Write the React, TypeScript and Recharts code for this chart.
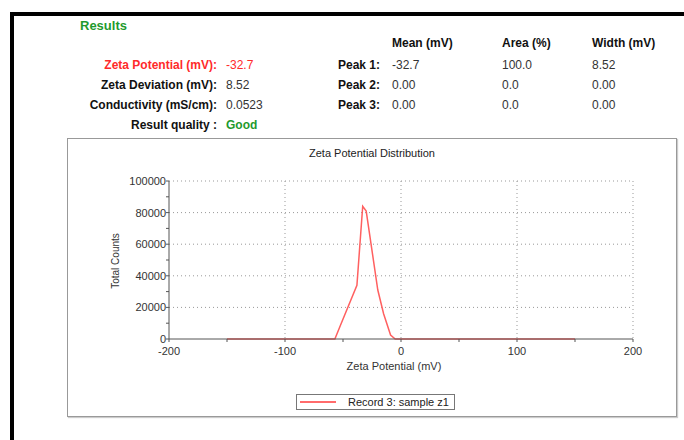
import React from "react";
import { LineChart, Line, XAxis, YAxis, CartesianGrid, Legend } from "recharts";

const zetaValues = [-150, -57, -52, -38, -33, -30, -20, -15, -9, -5, 150];
const countValues = [0, 0, 9000, 34000, 84000, 81000, 31000, 16000, 2500, 0, 0];
const xTicks = [-200, -150, -100, -50, 0, 50, 100, 150, 200];
const yTicks = [0, 10000, 20000, 30000, 40000, 50000, 60000, 70000, 80000, 90000, 100000];
const gridX = [-100, 0, 100, 200];
const gridY = [20000, 40000, 60000, 80000, 100000];

const data = zetaValues.map((z, i) => ({ zeta: z, count: countValues[i] }));

const FONT = '"Liberation Sans", Arial, sans-serif';
const RED = "#ff2a2a";
const GREEN = "#1f9a2e";

const leftRows = [
  { label: "Zeta Potential (mV):", value: "-32.7", color: RED, y: 65 },
  { label: "Zeta Deviation (mV):", value: "8.52", color: "#111", y: 85 },
  { label: "Conductivity (mS/cm):", value: "0.0523", color: "#111", y: 105 },
];
const peakRows = [
  { label: "Peak 1:", mean: "-32.7", area: "100.0", width: "8.52", y: 65 },
  { label: "Peak 2:", mean: "0.00", area: "0.0", width: "0.00", y: 85 },
  { label: "Peak 3:", mean: "0.00", area: "0.0", width: "0.00", y: 105 },
];

const txt = (left: number, y: number, s: string, style: React.CSSProperties = {}) => (
  <div
    style={{
      position: "absolute",
      left,
      top: y - 7,
      lineHeight: "14px",
      fontSize: 12,
      whiteSpace: "nowrap",
      color: "#333",
      ...style,
    }}
  >
    {s}
  </div>
);

const rtxt = (right: number, y: number, s: string, style: React.CSSProperties = {}) => (
  <div
    style={{
      position: "absolute",
      left: right - 200,
      width: 200,
      textAlign: "right",
      top: y - 7,
      lineHeight: "14px",
      fontSize: 12,
      fontWeight: "bold",
      whiteSpace: "nowrap",
      color: "#111",
      ...style,
    }}
  >
    {s}
  </div>
);

const LegendBox = () => (
  <div
    style={{
      width: 157,
      height: 14,
      border: "1px solid #777",
      position: "relative",
      fontFamily: FONT,
      fontSize: 11,
      background: "#fff",
    }}
  >
    <div style={{ position: "absolute", left: 3, top: 6, width: 36, height: 1.5, background: "#ff6b6b" }} />
    <div style={{ position: "absolute", left: 51, top: 0, lineHeight: "14px", color: "#222" }}>
      Record 3: sample z1
    </div>
  </div>
);

export default function App() {
  return (
    <div style={{ position: "absolute", left: 0, top: 0, width: 684, height: 440, background: "#fff", fontFamily: FONT, overflow: "hidden" }}>
      {/* outer frame */}
      <div style={{ position: "absolute", left: 10, top: 12, width: 674, height: 3.5, background: "#000" }} />
      <div style={{ position: "absolute", left: 10, top: 12, width: 4, height: 428, background: "#000" }} />

      {txt(80, 26, "Results", { color: GREEN, fontWeight: "bold", fontSize: 13 })}
      {txt(392, 43, "Mean (mV)", { color: "#111", fontWeight: "bold" })}
      {txt(502, 43, "Area (%)", { color: "#111", fontWeight: "bold" })}
      {txt(592, 43, "Width (mV)", { color: "#111", fontWeight: "bold" })}

      {leftRows.map((r) => (
        <React.Fragment key={r.label}>
          {rtxt(217, r.y, r.label, { color: r.color })}
          {txt(226, r.y, r.value, { color: r.color === RED ? RED : "#333" })}
        </React.Fragment>
      ))}
      {peakRows.map((r) => (
        <React.Fragment key={r.label}>
          {rtxt(380, r.y, r.label)}
          {txt(392, r.y, r.mean)}
          {txt(502, r.y, r.area)}
          {txt(592, r.y, r.width)}
        </React.Fragment>
      ))}
      {rtxt(217, 125, "Result quality :")}
      {txt(226, 125, "Good", { color: GREEN, fontWeight: "bold" })}

      {/* chart box */}
      <div
        style={{
          position: "absolute",
          left: 67,
          top: 138,
          width: 608,
          height: 277,
          border: "1.5px solid #999",
          boxShadow: "1px 1px 1px #ccc",
        }}
      >
        <div style={{ position: "absolute", left: 0, width: 608, top: 8, textAlign: "center", fontSize: 11, color: "#222" }}>
          Zeta Potential Distribution
        </div>
        <div
          style={{
            position: "absolute",
            left: 48 - 60,
            top: 122 - 7,
            width: 120,
            lineHeight: "14px",
            textAlign: "center",
            fontSize: 10,
            color: "#333",
            transform: "rotate(-90deg)",
          }}
        >
          Total Counts
        </div>
        <div style={{ position: "absolute", left: 0, width: 652, top: 221, textAlign: "center", fontSize: 11, color: "#333" }}>
          Zeta Potential (mV)
        </div>
        <div style={{ position: "absolute", left: -1, top: -1 }}>
          <LineChart width={610} height={279} data={data} margin={{ top: 43, right: 44, bottom: 32, left: 0 }}>
            <CartesianGrid
              stroke="#999"
              strokeDasharray="1 3"
              horizontalValues={gridY}
              verticalValues={gridX}
            />
            <XAxis
              dataKey="zeta"
              type="number"
              domain={[-200, 200]}
              ticks={xTicks}
              allowDataOverflow
              height={30}
              tickSize={3}
              tickMargin={5}
              interval={0}
              tickFormatter={(v: number) => (v % 100 === 0 ? String(v) : "")}
              stroke="#555"
              tick={{ fill: "#333", fontSize: 11, fontFamily: FONT }}
            />
            <YAxis
              type="number"
              domain={[0, 100000]}
              ticks={yTicks}
              width={102}
              tickSize={3}
              tickMargin={0}
              interval={0}
              tickFormatter={(v: number) => (v % 20000 === 0 ? String(v) : "")}
              stroke="#555"
              tick={{ fill: "#333", fontSize: 11, fontFamily: FONT }}
            />
            <Legend
              content={() => <LegendBox />}
              wrapperStyle={{ position: "absolute", left: 229, top: 256, width: 159, height: 16 }}
            />
            <Line
              type="linear"
              dataKey="count"
              stroke="#ff6060"
              strokeWidth={1.5}
              dot={false}
              isAnimationActive={false}
              legendType="line"
            />
          </LineChart>
        </div>
      </div>
    </div>
  );
}
